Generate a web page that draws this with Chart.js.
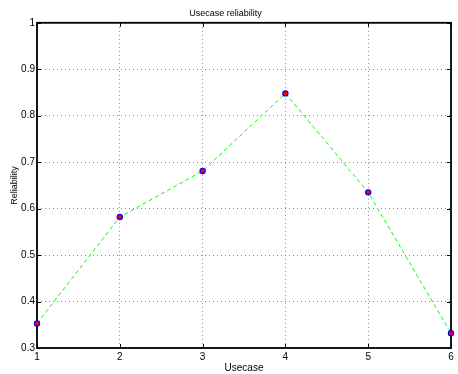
<!DOCTYPE html>
<html>
<head>
<meta charset="utf-8">
<script src="https://cdn.jsdelivr.net/npm/chart.js@4/dist/chart.umd.min.js"></script>
<style>
  html, body { margin: 0; padding: 0; background: #fff; }
  canvas { display: block; }
</style>
</head>
<body>
<canvas id="c" width="458" height="374"></canvas>
<script>
// Reliability measured for each use case
const usecases = [1, 2, 3, 4, 5, 6];
const reliability = [0.353, 0.582, 0.681, 0.848, 0.635, 0.332];
const xTicks = [1, 2, 3, 4, 5, 6];
const yTicks = [0.3, 0.4, 0.5, 0.6, 0.7, 0.8, 0.9, 1];

const FONT = "'Liberation Sans', Arial, Helvetica, sans-serif";

// Closed axes box with inward tick marks on all four sides
const boxPlugin = {
  id: 'axesBox',
  beforeDatasetsDraw(chart) {
    const { ctx, chartArea: a, scales: { x, y } } = chart;
    ctx.save();
    ctx.strokeStyle = '#000';
    ctx.lineWidth = 1;
    const tl = 4;
    ctx.beginPath();
    xTicks.forEach(v => {
      const px = Math.round(x.getPixelForValue(v)) + 0.5;
      ctx.moveTo(px, a.bottom); ctx.lineTo(px, a.bottom - tl);
      ctx.moveTo(px, a.top); ctx.lineTo(px, a.top + tl);
    });
    yTicks.forEach(v => {
      const py = Math.round(y.getPixelForValue(v)) + 0.5;
      ctx.moveTo(a.left, py); ctx.lineTo(a.left + tl, py);
      ctx.moveTo(a.right, py); ctx.lineTo(a.right - tl, py);
    });
    ctx.stroke();
    ctx.lineWidth = 1.8;
    ctx.strokeRect(a.left, a.top, a.right - a.left, a.bottom - a.top);
    ctx.restore();
  }
};

new Chart(document.getElementById('c'), {
  type: 'line',
  data: {
    datasets: [{
      data: usecases.map((u, i) => ({ x: u, y: reliability[i] })),
      borderColor: '#00ff00',
      borderWidth: 1,
      borderDash: [4, 3],
      pointRadius: 2.6,
      pointBorderWidth: 1.2,
      pointBorderColor: '#0000ff',
      pointBackgroundColor: '#ff0000',
      tension: 0,
      clip: false
    }]
  },
  options: {
    responsive: false,
    animation: false,
    devicePixelRatio: 1,
    layout: { padding: { left: 0, right: 7, top: 0, bottom: 0 } },
    plugins: {
      legend: { display: false },
      tooltip: { enabled: false },
      title: {
        display: true,
        text: 'Usecase reliability',
        color: '#000',
        font: { family: FONT, size: 9, weight: 'normal', lineHeight: 1.2 },
        padding: { top: 8, bottom: 4 }
      }
    },
    scales: {
      x: {
        type: 'linear',
        min: 1, max: 6,
        afterFit(s) { s.height = 26; },
        afterBuildTicks(s) { s.ticks = xTicks.map(v => ({ value: v })); },
        grid: { color: '#8a8a8a', drawTicks: false, tickLength: 0 },
        border: { display: false, dash: [1, 3] },
        ticks: {
          color: '#000', padding: 3, maxRotation: 0,
          font: { family: FONT, size: 10 },
          callback: v => String(v)
        },
        title: {
          display: true, text: 'Usecase', color: '#000',
          font: { family: FONT, size: 10, lineHeight: 1.2 },
          padding: { top: 0, bottom: 0 }
        }
      },
      y: {
        type: 'linear',
        min: 0.3, max: 1,
        afterFit(s) { s.width = 37; },
        afterBuildTicks(s) { s.ticks = yTicks.map(v => ({ value: v })); },
        grid: { color: '#8a8a8a', drawTicks: false, tickLength: 0 },
        border: { display: false, dash: [1, 3] },
        ticks: {
          color: '#000', padding: 2,
          font: { family: FONT, size: 10 },
          callback: v => (v === 1 ? '1' : v.toFixed(1))
        },
        title: {
          display: true, text: 'Reliability', color: '#000',
          font: { family: FONT, size: 9, lineHeight: 1.2 },
          padding: { top: 9, bottom: 0 }
        }
      }
    }
  },
  plugins: [boxPlugin]
});
</script>
</body>
</html>
